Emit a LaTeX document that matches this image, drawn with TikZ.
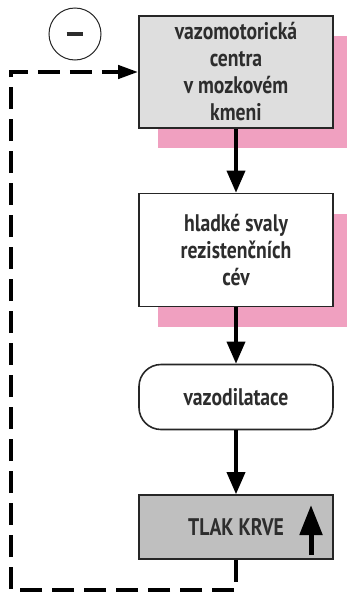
\documentclass[tikz,border=0pt]{standalone}
\usepackage{fontspec}
\setmainfont{PT Sans}
\newfontfamily\boxfont{PT Sans}[FakeStretch=0.82]
\usetikzlibrary{arrows.meta,shadows}
\definecolor{boxpink}{RGB}{240,160,192}
\definecolor{boxtext}{RGB}{45,45,45}

\begin{document}
\begin{tikzpicture}
    [
        x=1pt, y=-1pt,
        box node/.style={draw=black!85, line width=1.6pt, text=boxtext, font=\boxfont\bfseries\fontsize{24}{27}\selectfont, align=center, minimum width=194pt, inner sep=0pt},
        pink shadow/.style={general shadow={fill=boxpink, shadow xshift=19pt, shadow yshift=-20pt}},
        flow/.style={line width=3.5pt, -{Triangle[length=22pt,width=18pt]}},
        feedback/.style={line width=4pt, dash pattern=on 22pt off 10pt, -{Triangle[length=20pt,width=13pt]}}
    ]

    \useasboundingbox (0,0) rectangle (346,592);

    \node [box node, pink shadow, fill=black!13, minimum height=112pt] (centra) at (236, 72) {vazomotorická\\centra\\v mozkovém\\kmeni};
    \node [box node, pink shadow, fill=white, minimum height=113pt] (svaly) at (236, 250) {hladké svaly\\rezistenčních\\cév};
    \node [box node, fill=white, rounded corners=22pt, minimum height=65pt] (dilatace) at (236, 397) {vazodilatace};
    \node [box node, fill=black!25, minimum height=64pt] (tlak) at (236, 527) {TLAK KRVE};

    \node [draw=black!85, line width=1pt, circle, minimum size=52pt, inner sep=0pt] (minus) at (75, 34) {\color{boxtext}\rule{17pt}{4.2pt}};

    \draw [flow] (centra) -- (svaly);
    \draw [flow] (svaly) -- (dilatace);
    \draw [flow] (dilatace) -- (tlak);

    % sipka nahoru v boxu
    \draw [line width=5pt, -{Triangle[length=30pt,width=22pt]}] (311, 555) -- (311, 505);

    \draw [feedback] (tlak.south) |- (11, 590) |- (centra.west);
    \end{tikzpicture}
\end{document}
